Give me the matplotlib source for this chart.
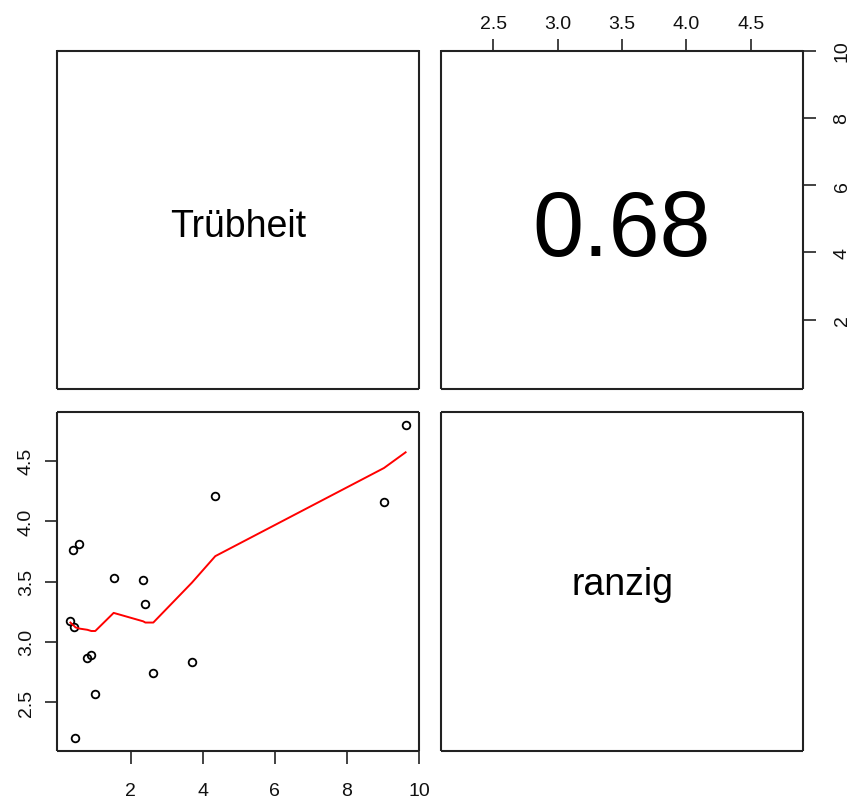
import matplotlib
matplotlib.use("Agg")
import matplotlib.pyplot as plt
import numpy as np

plt.rcParams['font.family'] = ['Liberation Sans', 'DejaVu Sans']

# Observations: turbidity (Trübheit) and rancidity score (ranzig)
truebheit = [0.33, 0.40, 0.44, 0.47, 0.58, 0.80, 0.91, 1.02,
             1.53, 2.35, 2.41, 2.63, 3.70, 4.35, 9.03, 9.63]
ranzig = [3.17, 3.76, 3.12, 2.20, 3.81, 2.87, 2.89, 2.57,
          3.53, 3.51, 3.31, 2.74, 2.83, 4.21, 4.16, 4.80]

# Lowess smooth evaluated at the sorted Trübheit values
smooth_x = [0.33, 0.40, 0.44, 0.47, 0.58, 0.80, 0.91, 1.02,
            1.53, 2.35, 2.41, 2.63, 3.70, 4.35, 9.03, 9.63]
smooth_y = [3.16, 3.14, 3.13, 3.12, 3.11, 3.10, 3.09, 3.09,
            3.24, 3.17, 3.16, 3.16, 3.49, 3.71, 4.44, 4.57]

correlation = 0.68
var_names = ["Trübheit", "ranzig"]


def padded(v):
    lo, hi = min(v), max(v)
    d = (hi - lo) * 0.04
    return lo - d, hi + d


xlim_t = padded(truebheit)
xlim_r = padded(ranzig)

W, H = 850, 803
fig = plt.figure(figsize=(W / 100, H / 100), dpi=100)

left_l, left_r = 57 / W, 441 / W
pw = 362 / W
top_b, top_h = 1 - 389.5 / H, 338 / H
bot_b, bot_h = 1 - 752 / H, 339 / H

ax_tl = fig.add_axes([left_l, top_b, pw, top_h])
ax_tr = fig.add_axes([left_r, top_b, pw, top_h])
ax_bl = fig.add_axes([left_l, bot_b, pw, bot_h])
ax_br = fig.add_axes([left_r, bot_b, pw, bot_h])

frame_col = '#222222'
for ax in (ax_tl, ax_tr, ax_bl, ax_br):
    for s in ax.spines.values():
        s.set_color(frame_col)
        s.set_linewidth(1.5)
        s.set_capstyle('butt')
    ax.set_xticks([])
    ax.set_yticks([])

tick_kw = dict(length=9, width=1.2, color=frame_col, labelsize=14,
               labelcolor='#111111')

# Diagonal: variable names
ax_tl.set_xlim(*xlim_t); ax_tl.set_ylim(*xlim_t)
ax_tl.text(0.5, 0.451, var_names[0], transform=ax_tl.transAxes,
           ha='center', va='baseline', fontsize=27)
ax_br.set_xlim(*xlim_r); ax_br.set_ylim(*xlim_r)
ax_br.text(0.5, 0.463, var_names[1], transform=ax_br.transAxes,
           ha='center', va='baseline', fontsize=27)

# Upper panel: correlation coefficient
ax_tr.set_xlim(*xlim_r)
ax_tr.set_ylim(*xlim_t)
ax_tr.text(0.5, 0.395, f"{correlation:.2f}", transform=ax_tr.transAxes,
           ha='center', va='baseline', fontsize=66)
ax_tr.xaxis.set_ticks_position('top')
ax_tr.set_xticks([2.5, 3.0, 3.5, 4.0, 4.5])
ax_tr.set_xticklabels(['2.5', '3.0', '3.5', '4.0', '4.5'])
ax_tr.tick_params(axis='x', top=True, bottom=False, labeltop=True,
                  labelbottom=False, pad=4, **tick_kw)
ax_tr.yaxis.set_ticks_position('right')
ax_tr.set_yticks([2, 4, 6, 8, 10])
ax_tr.tick_params(axis='y', right=True, left=False, labelright=True,
                  labelleft=False, pad=13, labelrotation=90, **tick_kw)
for lab in ax_tr.get_yticklabels():
    lab.set_va('center')

# Lower panel: scatter with smooth
ax_bl.set_xlim(*xlim_t)
ax_bl.set_ylim(*xlim_r)
ax_bl.plot(truebheit, ranzig, linestyle='none', marker='o', markersize=5.5,
           markerfacecolor='none', markeredgecolor='black',
           markeredgewidth=1.3)
ax_bl.plot(smooth_x, smooth_y, color='red', linewidth=1.4)
ax_bl.set_xticks([2, 4, 6, 8, 10])
ax_bl.set_xticklabels(['2', '4', '6', '8', '10'])
ax_bl.tick_params(axis='x', pad=13.5, **tick_kw)
ax_bl.set_yticks([2.5, 3.0, 3.5, 4.0, 4.5])
ax_bl.set_yticklabels(['2.5', '3.0', '3.5', '4.0', '4.5'])
ax_bl.tick_params(axis='y', pad=7, labelrotation=90, **tick_kw)
for lab in ax_bl.get_yticklabels():
    lab.set_va('center')

fig.savefig("out.png", dpi=100, facecolor='white')
